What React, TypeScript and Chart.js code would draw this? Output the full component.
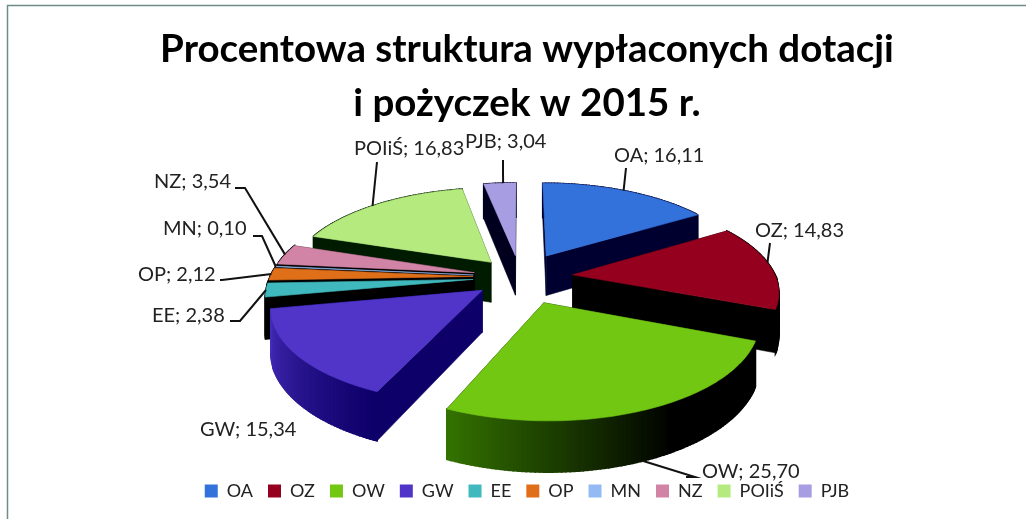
import React, { useEffect, useRef } from "react";
import { Chart, registerables } from "chart.js";

Chart.register(...registerables);

const shownNames = ["OA", "OZ", "OW", "GW", "EE", "OP", "MN", "NZ", "POIiŚ", "PJB"];
const values = [16.11, 14.83, 25.7, 15.34, 2.38, 2.12, 0.1, 3.54, 16.83, 3.04];
const topColors = ["#3371DB", "#95001E", "#72C712", "#5035C8", "#3FB8BE", "#E06F1A", "#93BAF3", "#D184A6", "#B5EB7E", "#A79DE3"];
const explosion = [56, 53, 60, 47, 47, 47, 47, 47, 45, 50];
const titleLines = ["Procentowa struktura wypłaconych dotacji", "i pożyczek w 2015 r."];

// style tables for the 3D walls
const wallDark: number[][] = [[0, 0, 48], [0, 0, 0], [0, 0, 0], [14, 0, 105], [0, 0, 0], [0, 0, 0], [0, 0, 0], [0, 0, 0], [0, 28, 0], [0, 0, 30]];
const wallLight: number[][] = [[0, 0, 48], [0, 0, 0], [52, 115, 0], [70, 45, 185], [0, 0, 0], [0, 0, 0], [0, 0, 0], [0, 0, 0], [0, 28, 0], [0, 0, 30]];
const paintOrder = [9, 0, 8, 7, 6, 5, 4, 1, 3, 2];

// label layout: text left x, text centre y, leader points, anchor on the slice
type LabelSpec = { x: number; y: number; path: number[][]; wall?: boolean; frac?: number };
const labelLayout: LabelSpec[] = [
  { x: 614, y: 156, path: [[626, 168]], frac: 0.48 },
  { x: 755, y: 231, path: [[770, 243]], frac: 0.45 },
  { x: 702, y: 472, path: [[695, 477], [686, 477]], wall: true, frac: 0.5 },
  { x: 200, y: 430, path: [] },
  { x: 152, y: 316, path: [[240, 321], [230, 321]] },
  { x: 138, y: 275, path: [[222, 280], [220, 280]] },
  { x: 163, y: 229, path: [[262, 236], [253, 236]] },
  { x: 154, y: 182, path: [[245, 188], [235, 188]] },
  { x: 354, y: 149, path: [[377, 162]], frac: 0.47 },
  { x: 465, y: 142, path: [[503, 160]], frac: 0.6 },
];

const SHIFT_X = -7;
const CENTER_Y = 277;
const TILT = 0.445;
const PERSP = 0.000775;
const DEPTH = 41;

function project(cx: number, cy: number, u: number, v: number, z = 0) {
  const k = 1 / (1 - PERSP * v);
  return { x: cx + u * k, y: cy + v * TILT * k + z * k };
}

const deg = (a: number) => ((a + Math.PI / 2) * 180) / Math.PI;
const mix = (a: number[], b: number[], t: number) => `rgb(${a.map((c, i) => Math.round(c + (b[i] - c) * t)).join(",")})`;

function wallShade(i: number, d: number) {
  if (i === 2) return Math.min(1, Math.max(0, (d - 150) / 54));
  if (i === 3) return Math.min(1, Math.max(0, (d - 205) / 55));
  return 0;
}

const pie3d = {
  id: "pie3d",
  beforeDatasetDraw(chart: any) {
    const ctx: CanvasRenderingContext2D = chart.ctx;
    const arcs = chart.getDatasetMeta(0).data;
    const geom = arcs.map((el: any) => {
      const cx = el.x + SHIFT_X;
      const s = el.startAngle, e = el.endAngle, r = el.outerRadius;
      const mid = (s + e) / 2, off = el.options.offset;
      const ou = off * Math.cos(mid), ov = off * Math.sin(mid);
      const at = (a: number, z = 0, rad = r) => project(cx, CENTER_Y, ou + rad * Math.cos(a), ov + rad * Math.sin(a), z);
      return { s, e, mid, at };
    });
    const poly = (pts: { x: number; y: number }[], fill: string, lw = 0.6) => {
      ctx.beginPath();
      pts.forEach((p, j) => (j ? ctx.lineTo(p.x, p.y) : ctx.moveTo(p.x, p.y)));
      ctx.closePath();
      ctx.fillStyle = fill;
      ctx.strokeStyle = fill;
      ctx.lineWidth = lw;
      ctx.fill();
      ctx.stroke();
    };
    ctx.save();
    for (const i of paintOrder) {
      const { s, e, at } = geom[i];
      const radial = `rgb(${wallDark[i].join(",")})`;
      poly([at(s, 0, 0), at(s, 0), at(s, DEPTH), at(s, DEPTH, 0)], radial);
      poly([at(e, 0, 0), at(e, 0), at(e, DEPTH), at(e, DEPTH, 0)], radial);
      const steps = Math.max(2, Math.ceil(((e - s) * 180) / Math.PI));
      const rim: { x: number; y: number }[] = [];
      for (let j = 0; j < steps; j++) {
        const a0 = s + ((e - s) * j) / steps;
        const a1 = s + ((e - s) * (j + 1)) / steps;
        poly([at(a0), at(a1), at(a1, DEPTH), at(a0, DEPTH)], mix(wallDark[i], wallLight[i], wallShade(i, deg((a0 + a1) / 2))), 1.6);
        rim.push(at(a0));
      }
      rim.push(at(e));
      poly([at(s, 0, 0), ...rim], topColors[i]);
    }
    // labels and leader lines
    ctx.font = "20px Lato";
    ctx.textBaseline = "middle";
    ctx.textAlign = "left";
    labelLayout.forEach((spec, i) => {
      const g = geom[i];
      if (spec.path.length) {
        const a = g.s + (g.e - g.s) * (spec.frac ?? 0.5);
        const start = g.at(a, spec.wall ? DEPTH : 0);
        ctx.beginPath();
        ctx.moveTo(start.x, start.y);
        spec.path.forEach((p) => ctx.lineTo(p[0], p[1]));
        ctx.strokeStyle = "#111";
        ctx.lineWidth = 2;
        ctx.stroke();
      }
      ctx.fillStyle = "#222";
      ctx.fillText(`${shownNames[i]}; ${values[i].toFixed(2).replace(".", ",")}`, spec.x, spec.y);
    });
    ctx.restore();
    return false;
  },
  beforeDraw(chart: any) {
    const ctx: CanvasRenderingContext2D = chart.ctx;
    ctx.save();
    ctx.fillStyle = "#fff";
    ctx.fillRect(0, 0, chart.width, chart.height);
    ctx.strokeStyle = "#6f8a8a";
    ctx.lineWidth = 1.5;
    ctx.beginPath();
    ctx.moveTo(7.5, chart.height);
    ctx.lineTo(7.5, 5.5);
    ctx.lineTo(chart.width, 5.5);
    ctx.stroke();
    ctx.restore();
  },
};

export default function App() {
  const ref = useRef<HTMLCanvasElement>(null);
  useEffect(() => {
    document.body.style.margin = "0";
    const chart = new Chart(ref.current!, {
      type: "pie",
      data: {
        labels: shownNames,
        datasets: [{ data: values, backgroundColor: topColors, offset: explosion, borderWidth: 0 }],
      },
      plugins: [pie3d],
      options: {
        responsive: false,
        animation: false,
        radius: 203,
        layout: { padding: { left: 28, top: 22, bottom: 9 } },
        plugins: {
          tooltip: { enabled: false },
          title: {
            display: true,
            text: titleLines,
            color: "#000",
            font: { family: "Lato", size: 38.5, weight: "bold", lineHeight: 1.41 },
            padding: { top: 0, bottom: 0 },
          },
          legend: {
            position: "bottom",
            labels: {
              boxWidth: 13,
              boxHeight: 13,
              padding: 15,
              color: "#222",
              font: { family: "Lato", size: 18 },
            },
          },
        },
      } as any,
    });
    return () => chart.destroy();
  }, []);
  return <canvas ref={ref} width={1026} height={519} style={{ display: "block" }} />;
}
